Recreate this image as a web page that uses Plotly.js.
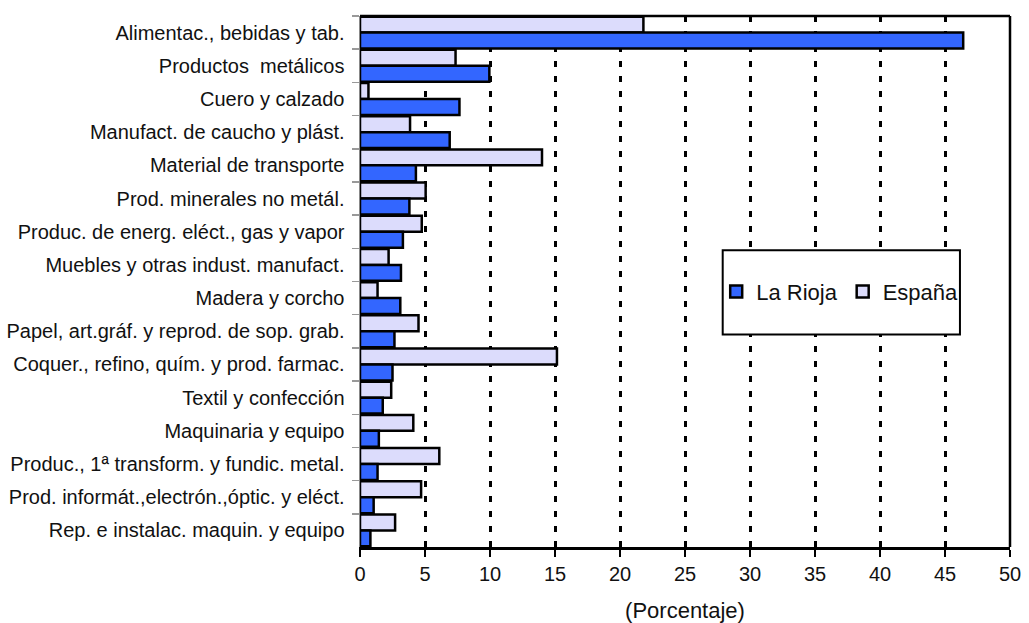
<!DOCTYPE html>
<html>
<head>
<meta charset="utf-8">
<script src="https://cdn.plot.ly/plotly-3.0.1.min.js"></script>
<style>html,body{margin:0;padding:0;background:#fff;}#chart{width:1029px;height:623px;}</style>
</head>
<body>
<div id="chart"></div>
<script>
const categories = [
  "Alimentac., bebidas y tab.",
  "Productos  metálicos",
  "Cuero y calzado",
  "Manufact. de caucho y plást.",
  "Material de transporte",
  "Prod. minerales no metál.",
  "Produc. de energ. eléct., gas y vapor",
  "Muebles y otras indust. manufact.",
  "Madera y corcho",
  "Papel, art.gráf. y reprod. de sop. grab.",
  "Coquer., refino, quím. y prod. farmac.",
  "Textil y confección",
  "Maquinaria y equipo",
  "Produc., 1ª transform. y fundic. metal.",
  "Prod. informát.,electrón.,óptic. y eléct.",
  "Rep. e instalac. maquin. y equipo"
];
const laRioja = [46.4, 9.95, 7.65, 6.9, 4.3, 3.8, 3.3, 3.15, 3.1, 2.65, 2.5, 1.75, 1.45, 1.35, 1.05, 0.8];
const espana  = [21.8, 7.35, 0.65, 3.85, 14.0, 5.05, 4.75, 2.2, 1.35, 4.5, 15.15, 2.4, 4.1, 6.1, 4.7, 2.7];
const xTicks = [0, 5, 10, 15, 20, 25, 30, 35, 40, 45, 50];

const textColor = "#111111";
const traces = [
  {type: "bar", orientation: "h", name: "España", y: categories, x: espana,
   marker: {color: "#DCDCFC", line: {color: "#000000", width: 2.5}}},
  {type: "bar", orientation: "h", name: "La Rioja", y: categories, x: laRioja,
   marker: {color: "#3366FF", line: {color: "#000000", width: 2.5}}}
];

const layout = {
  width: 1029, height: 623,
  margin: {l: 360, r: 19, t: 16, b: 76},
  paper_bgcolor: "#ffffff", plot_bgcolor: "#ffffff",
  font: {family: "Liberation Sans, Arial, sans-serif", size: 20, color: textColor},
  barmode: "group", bargap: 0.04, bargroupgap: 0,
  showlegend: true,
  legend: {orientation: "h", x: 0.738, y: 0.481, xanchor: "center", yanchor: "middle",
           traceorder: "reversed", bgcolor: "rgba(0,0,0,0)", borderwidth: 0,
           font: {size: 22, color: textColor}, itemwidth: 30},
  xaxis: {range: [0, 50], tickvals: xTicks, ticktext: xTicks.map(String),
          showgrid: true, gridcolor: "#000000", gridwidth: 3, griddash: "6px,9px",
          zeroline: false, showline: true, linecolor: "#000000", linewidth: 3,
          ticks: "outside", ticklen: 7, tickwidth: 2, tickcolor: "#000000",
          tickfont: {size: 20, color: textColor},
          title: {text: "(Porcentaje)", font: {size: 22, color: textColor}, standoff: 20},
          fixedrange: true},
  yaxis: {type: "category", autorange: "reversed", showgrid: false, zeroline: false,
          showline: true, linecolor: "#888888", linewidth: 1.5,
          ticks: "outside", tickson: "boundaries", ticklen: 7, tickcolor: "#999999", tickwidth: 1.5,
          ticklabelstandoff: 10,
          tickfont: {size: 20, color: textColor}, fixedrange: true},
  shapes: [
    {type: "line", xref: "paper", yref: "paper", x0: 0, x1: 1, y0: 1, y1: 1,
     line: {color: "#000000", width: 2.5}, layer: "above"},
    {type: "line", xref: "paper", yref: "paper", x0: 1, x1: 1, y0: 0, y1: 1,
     line: {color: "#000000", width: 2.5}, layer: "above"},
    {type: "rect", xref: "paper", yref: "paper", x0: 0.558, x1: 0.923, y0: 0.4, y1: 0.559,
     fillcolor: "#ffffff", line: {color: "#000000", width: 2}, layer: "above"}
  ]
};

Plotly.newPlot("chart", traces, layout, {displayModeBar: false, staticPlot: true});
</script>
</body>
</html>
